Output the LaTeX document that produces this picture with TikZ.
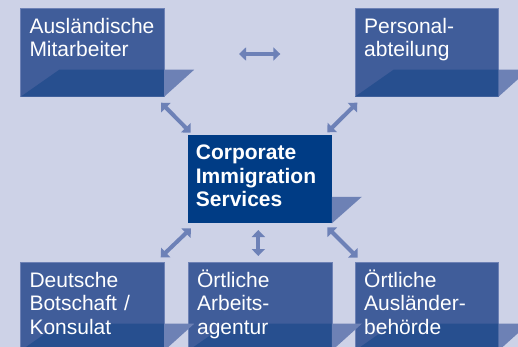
\documentclass[tikz,border=0pt]{standalone}
\usepackage{fontspec}
\setmainfont{Liberation Sans}
\usetikzlibrary{arrows.meta,calc}
\definecolor{bgc}{HTML}{CDD2E7}
\definecolor{boxc}{HTML}{405D9A}
\definecolor{shelfc}{HTML}{274F8F}
\definecolor{wedgec}{HTML}{6D81B5}
\definecolor{centerc}{HTML}{003C85}
\definecolor{arrowc}{HTML}{6D81B7}
\tikzset{
  box/.style={fill=boxc, draw=wedgec, line width=0.6pt, minimum width=143.5pt, minimum height=88.4pt, anchor=north west, inner sep=0pt, outer sep=0pt},
  cbox/.style={box, fill=centerc, draw=none},
  lbl/.style={anchor=base west, text width=132pt, align=left, inner sep=0pt, text=white, font=\fontsize{21pt}{23.4pt}\selectfont},
  clbl/.style={lbl, font=\fontsize{21pt}{23.4pt}\selectfont\bfseries},
  link/.style={draw=arrowc, line width=4pt, {Triangle[width=13pt,length=7pt]}-{Triangle[width=13pt,length=7pt]}}
}
\newcommand\myshelf[1]{%
  \fill[shelfc] (#1.south west) -- ++(38.6,-27) -- ($(#1.south east)+(0,-27)$) -- (#1.south east) -- cycle;
  \fill[wedgec] ($(#1.south east)+(0,-27)$) -- ++(30,0) -- (#1.south east) -- cycle;}
\newcommand\mywedge[1]{%
  \fill[wedgec] ($(#1.south east)+(0,-26.6)$) -- ++(30,0) -- (#1.south east) -- cycle;}
\begin{document}
\begin{tikzpicture}[x=1pt,y=-1pt]
\fill[bgc] (0,0) rectangle (518,347);
\useasboundingbox (0,0) rectangle (518,347);
\clip (0,0) rectangle (518,347);
% boxes
\node[box] (ma) at (20.7,8.3) {};
\node[box] (pa) at (355,8.3) {};
\node[cbox] (cis) at (188.3,135) {};
\node[box] (db) at (20.7,262.3) {};
\node[box] (aa) at (188.3,262.3) {};
\node[box] (ab) at (355,262.3) {};
\myshelf{ma}
\myshelf{pa}
\mywedge{cis}
\myshelf{db}
\myshelf{aa}
\myshelf{ab}
% labels
\node[lbl] (tma) at ($(ma.north west)+(8.6,25)$) {Ausländische\\Mitarbeiter};
\node[lbl] (tpa) at ($(pa.north west)+(9,25)$) {Personal-\\abteilung};
\node[clbl] (tcis) at ($(cis.north west)+(7.4,25)$) {Corporate\\Immigration\\Services};
\node[lbl] (tdb) at ($(db.north west)+(8.6,25)$) {Deutsche\\Botschaft /\\Konsulat};
\node[lbl] (taa) at ($(aa.north west)+(8.6,25)$) {Örtliche\\Arbeits-\\agentur};
\node[lbl] (tab) at ($(ab.north west)+(9,25)$) {Örtliche\\Ausländer-\\behörde};
% arrow end points
\coordinate (h1) at (239,54);
\coordinate (h2) at (280.3,54);
\coordinate (a1) at (161,102.7);
\coordinate (a2) at (190.7,132.7);
\coordinate (b1) at (327.3,132.3);
\coordinate (b2) at (357.3,102.7);
\coordinate (c1) at (160.7,257.3);
\coordinate (c2) at (191,228.3);
\coordinate (d1) at (258.3,230);
\coordinate (d2) at (258.3,256);
\coordinate (e1) at (327.3,227.3);
\coordinate (e2) at (357.7,257.7);
\draw[link] (h1) -- (h2);
\draw[link] (a1) -- (a2);
\draw[link] (b1) -- (b2);
\draw[link] (c1) -- (c2);
\draw[link] (d1) -- (d2);
\draw[link] (e1) -- (e2);
\end{tikzpicture}
\end{document}
